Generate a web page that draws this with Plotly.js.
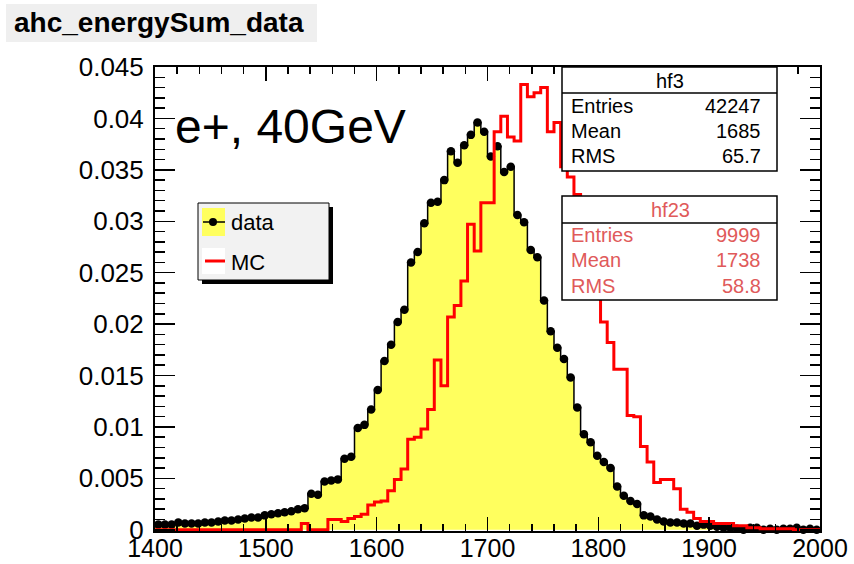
<!DOCTYPE html>
<html>
<head>
<meta charset="utf-8">
<script src="https://cdn.plot.ly/plotly-3.0.1.min.js"></script>
<style>
  html, body { margin: 0; padding: 0; background: #fff; }
  #chart { width: 854px; height: 564px; }
</style>
</head>
<body>
<div id="chart"></div>
<script>
// histogram binning: 100 bins of 6 from 1400 to 2000
const binStart = 1400;
const binWidth = 6;

// hf3 (data), normalised bin contents
const dataValues = [
  0.0005, 0.0005, 0.0005, 0.0007, 0.0006, 0.0006, 0.0006, 0.0007, 0.0007, 0.0008,
  0.0009, 0.0009, 0.0010, 0.0011, 0.0012, 0.0012, 0.0014, 0.0015, 0.0016, 0.0017,
  0.0018, 0.0020, 0.0021, 0.0035, 0.0034, 0.0047, 0.0048, 0.0049, 0.0069, 0.0071,
  0.0099, 0.0102, 0.0117, 0.0136, 0.0164, 0.0180, 0.0202, 0.0214, 0.0260, 0.0270,
  0.0298, 0.0318, 0.0319, 0.0340, 0.0368, 0.0357, 0.0374, 0.0384, 0.0396, 0.0387,
  0.0363, 0.0373, 0.0348, 0.0353, 0.0306, 0.0299, 0.0272, 0.0265, 0.0223, 0.0193,
  0.0177, 0.0166, 0.0148, 0.0119, 0.0093, 0.0085, 0.0072, 0.0066, 0.0060, 0.0042,
  0.0033, 0.0028, 0.0025, 0.0014, 0.0013, 0.0010, 0.0008, 0.0007, 0.0007, 0.0006,
  0.0006, 0.0004, 0.0005, 0.0004, 0.0003, 0.0002, 0.0002, 0.0001, 0.0000, 0.0002,
  0.0002, 0.0000, 0.0001, 0.0000, 0.0001, 0.0001, 0.0002, 0.0000, 0.0001, 0.0000
];

// hf23 (MC), normalised bin contents
const mcValues = [
  0, 0, 0, 0, 0, 0, 0, 0, 0, 0,
  0, 0, 0, 0, 0, 0, 0, 0, 0, 0,
  0, 0, 0.0006, 0, 0, 0, 0.0010, 0.0010, 0.0008, 0.0011,
  0.0013, 0.0015, 0.0024, 0.0027, 0.0028, 0.0038, 0.0049, 0.0059, 0.0088, 0.0090,
  0.0098, 0.0117, 0.0165, 0.0140, 0.0207, 0.0218, 0.0242, 0.0297, 0.0271, 0.0318,
  0.0318, 0.0387, 0.0402, 0.0382, 0.0378, 0.0433, 0.0421, 0.0425, 0.0430, 0.0387,
  0.0396, 0.0353, 0.0343, 0.0326, 0.0290, 0.0260, 0.0230, 0.0202, 0.0182, 0.0156,
  0.0156, 0.0111, 0.0110, 0.0081, 0.0066, 0.0046, 0.0049, 0.0049, 0.0040, 0.0020,
  0.0017, 0.0011, 0.0008, 0.0008, 0.0006, 0.0006, 0.0006, 0.0004, 0.0004, 0.0002,
  0.0002, 0.0001, 0.0001, 0.0001, 0.0001, 0.0001, 0, 0, 0, 0
];

const statLabels = ["Entries", "Mean", "RMS"];
const dataStats = ["42247", "1685", "65.7"];
const mcStats = ["9999", "1738", "58.8"];
const xTickVals = [1400, 1500, 1600, 1700, 1800, 1900, 2000];
const yTickVals = [0, 0.005, 0.01, 0.015, 0.02, 0.025, 0.03, 0.035, 0.04, 0.045];

// bin edges / centres
const edges = dataValues.map((_, i) => binStart + i * binWidth);
edges.push(binStart + dataValues.length * binWidth);
const centres = dataValues.map((_, i) => binStart + (i + 0.5) * binWidth);
const stepData = dataValues.concat([dataValues[dataValues.length - 1]]);
const stepMc = mcValues.concat([mcValues[mcValues.length - 1]]);

// pixel -> paper helpers (plot area 155..820 x 67..531)
const PL = 155, PR = 820, PT = 67, PB = 531;
const px = (p) => (p - PL) / (PR - PL);
const py = (p) => (PB - p) / (PB - PT);

const RED = "#ff0000";
const STATRED = "#e05a5a";
const FONT = "Liberation Sans, Arial, sans-serif";

const traces = [
    {
        x: edges, y: stepData,
        type: "scatter", mode: "lines",
        line: {shape: "hv", color: "#000", width: 1.5},
        fill: "tozeroy", fillcolor: "#ffff5e",
        hoverinfo: "skip", showlegend: false
    },
    {
        x: centres, y: dataValues,
        type: "scatter", mode: "markers",
        marker: {symbol: "circle", size: 8.5, color: "#000"},
        error_x: {type: "constant", value: binWidth / 2, color: "#000", thickness: 2, width: 0},
        cliponaxis: false,
        showlegend: false
    },
    {
        x: edges, y: stepMc,
        type: "scatter", mode: "lines",
        line: {shape: "hv", color: RED, width: 3},
        showlegend: false
    }
];

function rect(x0, y0, x1, y1, fill, lineColor, lineWidth) {
    return {
        type: "rect", xref: "paper", yref: "paper", layer: "above",
        x0: px(x0), x1: px(x1), y0: py(y0), y1: py(y1),
        fillcolor: fill,
        line: {color: lineColor || fill, width: lineWidth === undefined ? 0 : lineWidth}
    };
}
function hline(x0, x1, y, color, width) {
    return {
        type: "line", xref: "paper", yref: "paper", layer: "above",
        x0: px(x0), x1: px(x1), y0: py(y), y1: py(y),
        line: {color: color, width: width}
    };
}
function label(text, x, y, size, color, anchor) {
    return {
        text: text, xref: "paper", yref: "paper",
        x: px(x), y: py(y), xanchor: anchor || "left", yanchor: "middle",
        showarrow: false, font: {family: FONT, size: size, color: color || "#000"}
    };
}

const shapes = [
    rect(6, 4, 317, 42, "#efefef"),
    // legend with shadow
    rect(202, 207, 333, 284, "#000"),
    rect(198, 203, 329, 280, "#f2f2f2", "#000", 1),
    rect(202, 208, 225, 236, "#ffff5e"),
    rect(202, 248, 225, 274, "#ffffff"),
    hline(203, 225, 222, "#000", 1.5),
    {type: "circle", xref: "paper", yref: "paper", layer: "above",
     x0: px(209), x1: px(217), y0: py(218), y1: py(226),
     fillcolor: "#000", line: {color: "#000", width: 0}},
    hline(205, 225, 261, RED, 3),
    // stat boxes
    rect(562, 67, 777, 171, "#ffffff", "#000", 1.5),
    hline(562, 777, 93, "#000", 1.5),
    rect(562, 196, 777, 300, "#ffffff", "#000", 1.5),
    hline(562, 777, 223, "#000", 1.5)
];

const annotations = [
    label("<b>ahc_energySum_data</b>", 12, 23, 28),
    label("e+, 40GeV", 173, 126, 48),
    label("data", 229, 222, 22),
    label("MC", 229, 262, 22),
    label("hf3", 670, 81, 20, "#000", "center"),
    label("hf23", 670, 210, 20, STATRED, "center")
];
const rowsTop = [106, 131, 156];
const rowsBottom = [235, 260, 286];
statLabels.forEach((name, i) => {
    annotations.push(label(name, 569, rowsTop[i], 20));
    annotations.push(label(dataStats[i], 763, rowsTop[i], 20, "#000", "right"));
    annotations.push(label(name, 569, rowsBottom[i], 20, STATRED));
    annotations.push(label(mcStats[i], 763, rowsBottom[i], 20, STATRED, "right"));
});

const axisCommon = {
    showline: true, linecolor: "#000", linewidth: 2, mirror: "allticks",
    ticks: "inside", tickcolor: "#000", tickwidth: 1.5,
    showgrid: false, zeroline: false,
    tickfont: {family: FONT, size: 26, color: "#000"}
};

const layout = {
    width: 854, height: 564,
    margin: {l: PL, r: 854 - PR, t: PT, b: 564 - PB},
    paper_bgcolor: "#fff", plot_bgcolor: "#fff",
    showlegend: false,
    xaxis: Object.assign({}, axisCommon, {
        range: [1400, 2000], tickvals: xTickVals, ticklen: 14,
        tickfont: {family: FONT, size: 25, color: "#000"},
        ticklabelstandoff: -6,
        minor: {dtick: 20, ticks: "inside", ticklen: 7, tickcolor: "#000", tickwidth: 1.5}
    }),
    yaxis: Object.assign({}, axisCommon, {
        range: [-0.00012, 0.045], tickvals: yTickVals, ticklen: 20,
        ticklabelstandoff: 4,
        minor: {dtick: 0.001, ticks: "inside", ticklen: 10, tickcolor: "#000", tickwidth: 1.5}
    }),
    shapes: shapes,
    annotations: annotations
};

Plotly.newPlot("chart", traces, layout, {displayModeBar: false, staticPlot: true});
</script>
</body>
</html>
